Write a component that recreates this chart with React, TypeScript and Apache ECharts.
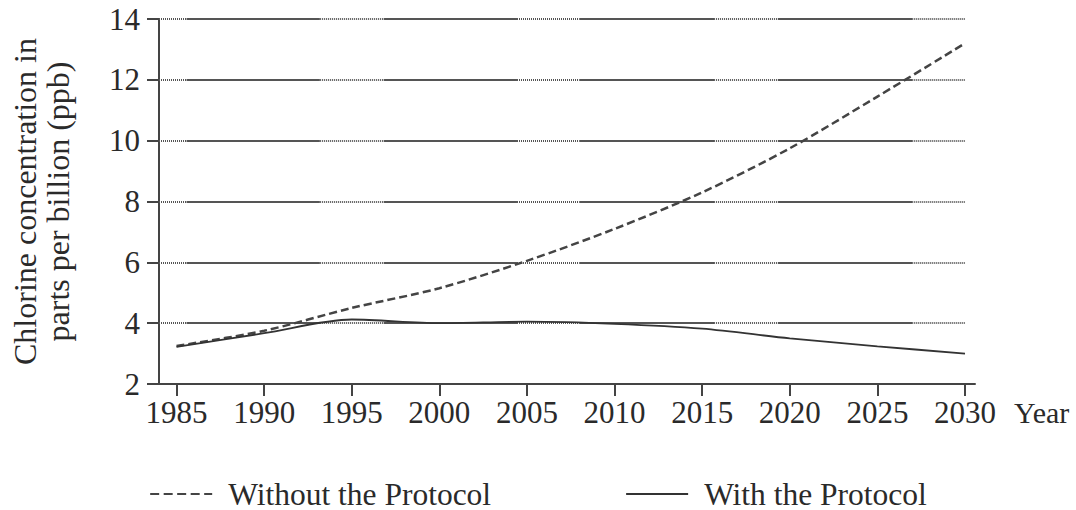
import React, { useEffect, useRef } from "react";
import * as echarts from "echarts";

const years = [1985, 1990, 1995, 2000, 2005, 2010, 2015, 2020, 2025, 2030];
const withoutProtocol = [3.25, 3.75, 4.5, 5.15, 6.05, 7.1, 8.3, 9.75, 11.45, 13.2];
const withProtocol = [3.22, 3.67, 4.12, 4.0, 4.05, 3.98, 3.82, 3.5, 3.24, 3.0];
const yTickValues = [2, 4, 6, 8, 10, 12, 14];
const gridValues = [4, 6, 8, 10, 12, 14];
// alternating dotted / solid pieces of each horizontal gridline (in years)
const gridBreaks = [1984, 1985.57, 1993.18, 1996.82, 2004.43, 2008.01, 2015.68, 2019.32, 2026.99, 2030];

const FONT = "'Liberation Serif', 'Times New Roman', serif";
const TXT = "#2a2a2a";

export default function App() {
  const ref = useRef<HTMLDivElement>(null);
  useEffect(() => {
    if (!ref.current) return;
    const chart = echarts.init(ref.current, undefined, { renderer: "svg" });
    const dotted: any[] = [];
    const solid: any[] = [];
    gridValues.forEach((y) => {
      for (let i = 0; i < gridBreaks.length - 1; i++) {
        const seg = [{ coord: [gridBreaks[i], y] }, { coord: [gridBreaks[i + 1], y] }];
        if (i % 2 === 0) dotted.push(seg);
        else solid.push(seg);
      }
    });
    const withoutData = years.map((yr, i) => [yr, withoutProtocol[i]]);
    const withData = years.map((yr, i) => [yr, withProtocol[i]]);
    chart.setOption({
      animation: false,
      textStyle: { fontFamily: FONT, color: TXT },
      grid: { left: 155, right: 101, top: 19, bottom: 126, containLabel: false },
      legend: {
        data: [
          { name: "Without the Protocol", lineStyle: { type: [9, 4.5], width: 2, color: "#444" } },
          { name: "With the Protocol", lineStyle: { type: "solid", width: 2, color: "#333" } },
        ],
        left: "center",
        top: 478,
        padding: 0,
        itemWidth: 62,
        itemHeight: 14,
        itemGap: 134,
        itemStyle: { opacity: 0 },
        textStyle: { fontFamily: FONT, fontSize: 31.5, lineHeight: 30, color: TXT, padding: [0, 0, 0, 11] },
      },
      xAxis: {
        type: "value",
        min: 1984,
        max: 2030.57,
        name: "Year",
        nameLocation: "end",
        nameGap: 39,
        nameTextStyle: { fontFamily: FONT, fontSize: 30, color: TXT, verticalAlign: "top", padding: [13, 0, 0, 0] },
        axisLine: { show: true, lineStyle: { color: "#444", width: 2 } },
        axisTick: { show: true, length: 12, lineStyle: { color: "#444", width: 2 }, customValues: years },
        axisLabel: { fontFamily: FONT, fontSize: 31, color: TXT, margin: 13, customValues: years, formatter: (v: number) => String(v) },
        splitLine: { show: false },
      },
      yAxis: {
        type: "value",
        min: 2,
        max: 14,
        interval: 2,
        name: "Chlorine concentration in\nparts per billion (ppb)",
        nameLocation: "middle",
        nameRotate: 90,
        nameGap: 85,
        nameTextStyle: { fontFamily: FONT, fontSize: 32, color: TXT, lineHeight: 33 },
        axisLine: { show: true, lineStyle: { color: "#444", width: 2 } },
        axisTick: { show: true, length: 12, lineStyle: { color: "#444", width: 2 } },
        axisLabel: { fontFamily: FONT, fontSize: 31, color: TXT, margin: 19, customValues: yTickValues },
        splitLine: { show: false },
      },
      series: [
        {
          name: "gridDotted",
          type: "line",
          data: [],
          z: 1,
          silent: true,
          markLine: {
            silent: true,
            symbol: ["none", "none"],
            label: { show: false },
            lineStyle: { type: [1, 1], color: "#555", width: 2 },
            emphasis: { disabled: true },
            data: dotted,
          },
        },
        {
          name: "gridSolid",
          type: "line",
          data: [],
          z: 1,
          silent: true,
          markLine: {
            silent: true,
            symbol: ["none", "none"],
            label: { show: false },
            lineStyle: { type: "solid", color: "#555", width: 2 },
            emphasis: { disabled: true },
            data: solid,
          },
        },
        {
          name: "Without the Protocol",
          type: "line",
          data: withoutData,
          z: 5,
          symbol: "none",
          showSymbol: false,
          smooth: 0.3,
          lineStyle: { type: [8, 4], color: "#444", width: 2.5 },
          itemStyle: { color: "#444" },
        },
        {
          name: "With the Protocol",
          type: "line",
          data: withData,
          z: 5,
          symbol: "none",
          showSymbol: false,
          smooth: 0.3,
          lineStyle: { type: "solid", color: "#333", width: 1.8 },
          itemStyle: { color: "#333" },
        },
      ],
    });
    return () => chart.dispose();
  }, []);
  return <div ref={ref} style={{ position: "fixed", left: 0, top: 0, width: 1076, height: 510, background: "#fff" }} />;
}
